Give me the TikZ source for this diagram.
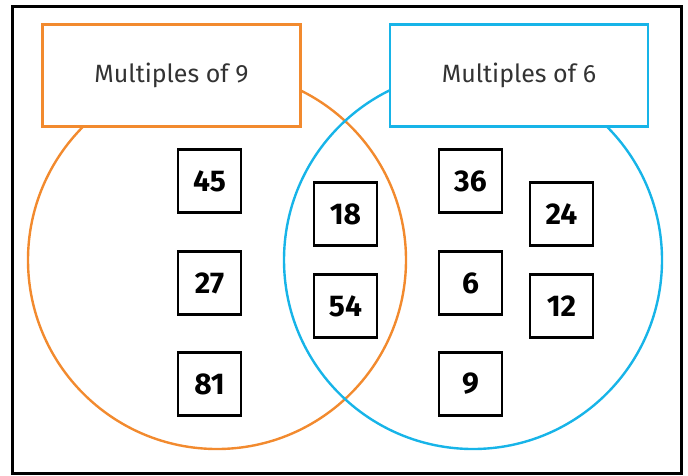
\documentclass[tikz,border=0pt]{standalone}
\usepackage{fontspec}
\setmainfont{Fira Sans}
\definecolor{nineorange}{HTML}{F28A2E}
\definecolor{sixblue}{HTML}{17B4E8}
\definecolor{labelgrey}{HTML}{333333}
\tikzset{
  setcircle/.style={circle, draw, line width=2.4pt, minimum size=378pt, inner sep=0pt},
  titlebox/.style={draw, fill=white, line width=2.4pt, minimum width=258pt, minimum height=102pt, inner sep=0pt, text=labelgrey, font=\fontsize{25}{30}\selectfont},
  numbox/.style={draw, fill=white, line width=2.2pt, minimum size=63pt, inner sep=0pt, font=\fontsize{30}{36}\selectfont\bfseries}
}
\begin{document}
\begin{tikzpicture}[x=1pt, y=-1pt]
        \useasboundingbox (0,0) rectangle (688,475);
        % frame
        \draw[line width=3pt] (12,6) rectangle (681,473);
        % sets
        \node[setcircle, nineorange] (ninecircle) at (217,260) {};
        \node[setcircle, sixblue] (sixcircle) at (473,260) {};
        % labels
        \node[titlebox, draw=nineorange] (ninetitle) at (171.5,75.5) {Multiples of 9};
        \node[titlebox, draw=sixblue] (sixtitle) at (519,75.5) {Multiples of 6};
        % numbers
        \node[numbox] (n45) at (209.5,181) {45};
        \node[numbox] (n27) at (209.5,283) {27};
        \node[numbox] (n81) at (209.5,384) {81};
        \node[numbox] (n18) at (345.5,214) {18};
        \node[numbox] (n54) at (345.5,306) {54};
        \node[numbox] (n36) at (470.5,181) {36};
        \node[numbox] (n6) at (470.5,283) {6};
        \node[numbox] (n9) at (470.5,384) {9};
        \node[numbox] (n24) at (561.5,214) {24};
        \node[numbox] (n12) at (561.5,306) {12};
      \end{tikzpicture}
\end{document}
